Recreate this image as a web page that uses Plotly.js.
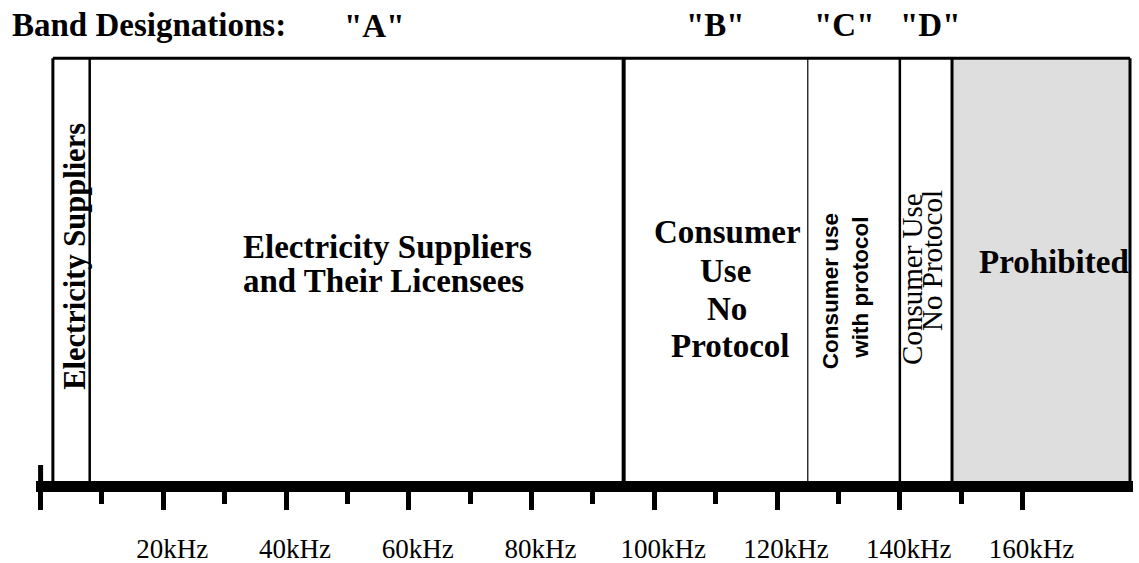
<!DOCTYPE html>
<html>
<head>
<meta charset="utf-8">
<script src="https://cdn.plot.ly/plotly-3.0.1.min.js"></script>
<style>html,body{margin:0;padding:0;background:#fff;}#chart{width:1139px;height:563px;}</style>
</head>
<body>
<div id="chart"></div>
<script>
// ---- data ----
const bandEdges = [2, 8, 95, 125, 140, 148.5, 177.5];           // kHz
const bandLetters = ['"A"', '"B"', '"C"', '"D"'];               // bands 1..4
const majorTickVals = [0, 20, 40, 60, 80, 100, 120, 140, 160];
const majorTickText = ['', '20kHz', '40kHz', '60kHz', '80kHz', '100kHz', '120kHz', '140kHz', '160kHz'];
const minorTickVals = [10, 30, 50, 70, 90, 110, 130, 150];
const headerText = 'Band Designations:';
const band0Text = 'Electricity Suppliers';
const band1Lines = ['Electricity Suppliers', 'and Their Licensees'];
const band2Lines = ['Consumer', 'Use', 'No', 'Protocol'];
const band3Lines = ['Consumer use', 'with protocol'];
const band4Lines = ['Consumer Use', 'No Protocol'];
const band5Text = 'Prohibited';

// ---- layout constants ----
const PLOT_H = 481;                 // plot area height in px (y units = px from plot bottom)
const py = p => PLOT_H - p;         // page pixel y -> y units
const BOX_TOP = py(58.3);
const edgeWidths = [3, 2.5, 4, 1.2, 2.5, 3, 3];
const SERIF = 'Liberation Serif, Times New Roman, serif';
const SANS = 'Liberation Sans, Arial, sans-serif';
const center = i => (bandEdges[i] + bandEdges[i + 1]) / 2;

const shapes = [];
shapes.push({type: 'rect', xref: 'x', yref: 'y', x0: bandEdges[5], x1: bandEdges[6], y0: 0, y1: BOX_TOP,
  fillcolor: '#dedede', line: {width: 0}, layer: 'below'});
bandEdges.forEach((e, i) => shapes.push({type: 'line', xref: 'x', yref: 'y', x0: e, x1: e, y0: 0, y1: BOX_TOP,
  line: {color: 'black', width: edgeWidths[i]}}));
shapes.push({type: 'line', xref: 'x', yref: 'y', x0: bandEdges[0], x1: bandEdges[6], y0: BOX_TOP, y1: BOX_TOP,
  line: {color: 'black', width: 3}});
// upward stub of the zero tick
shapes.push({type: 'line', xref: 'x', yref: 'y', x0: majorTickVals[0], x1: majorTickVals[0], y0: -2, y1: py(465),
  line: {color: 'black', width: 5}});

const ann = [];
function A(text, band, xshift, pageY, font, angle) {
  ann.push({text: text, xref: 'x', yref: 'y', x: center(band), y: py(pageY), xshift: xshift,
    xanchor: 'center', yanchor: 'middle', showarrow: false, textangle: angle || 0, font: font});
}
const serif = s => ({family: SERIF, size: s, color: 'black'});

// header
ann.push({text: '<b>' + headerText + '</b>', xref: 'paper', yref: 'y', x: 0, xshift: -26, y: py(24.5),
  xanchor: 'left', yanchor: 'middle', showarrow: false, font: serif(33)});
const letterShift = [17, 0, -10, 4];
const letterY = [26, 25, 25, 25];
bandLetters.forEach((t, k) => A('<b>' + t + '</b>', k + 1, letterShift[k], letterY[k], serif(33)));

A('<b>' + band0Text + '</b>', 0, 3, 256.5, serif(30.5), -90);
A('<b>' + band1Lines[0] + '</b>', 1, 31, 246.7, serif(33));
A('<b>' + band1Lines[1] + '</b>', 1, 27, 281, serif(33));
const b2y = [232, 270.7, 309, 345.7];
const b2x = [12, 10, 11, 15];
band2Lines.forEach((t, k) => A('<b>' + t + '</b>', 2, b2x[k], b2y[k], serif(33)));
A('<b>' + band3Lines[0] + '</b>', 3, -23, 291.5, {family: SANS, size: 22.5, color: 'black'}, -90);
A('<b>' + band3Lines[1] + '</b>', 3, 6, 288, {family: SANS, size: 22.5, color: 'black'}, -90);
A(band4Lines[0], 4, -14, 279, serif(29), -90);
A(band4Lines[1], 4, 5.5, 260.5, serif(29), -90);
A('<b>' + band5Text + '</b>', 5, 13, 262, serif(33));

const PX_PER_KHZ = 6.1375, ZERO_PX = 40.6, L = 36, R = 6;
const layout = {
  width: 1139, height: 563,
  margin: {l: L, r: R, t: 0, b: 563 - PLOT_H, pad: 0},
  paper_bgcolor: 'white', plot_bgcolor: 'white',
  showlegend: false,
  xaxis: {
    range: [(L - ZERO_PX) / PX_PER_KHZ, (1139 - R - ZERO_PX) / PX_PER_KHZ],
    showgrid: false, zeroline: false,
    showline: true, linewidth: 11, linecolor: 'black',
    ticks: 'outside', ticklen: 18, tickwidth: 5, tickcolor: 'black',
    tickmode: 'array', tickvals: majorTickVals, ticktext: majorTickText,
    tickfont: {family: SERIF, size: 27, color: 'black'},
    ticklabelstandoff: 16, ticklabelshift: 9,
    minor: {tickmode: 'array', tickvals: minorTickVals, ticks: 'outside', ticklen: 12, tickwidth: 5, tickcolor: 'black', showgrid: false},
    fixedrange: true
  },
  yaxis: {range: [0, PLOT_H], visible: false, fixedrange: true},
  shapes: shapes,
  annotations: ann
};
Plotly.newPlot('chart', [], layout, {staticPlot: true, displayModeBar: false});
</script>
</body>
</html>
